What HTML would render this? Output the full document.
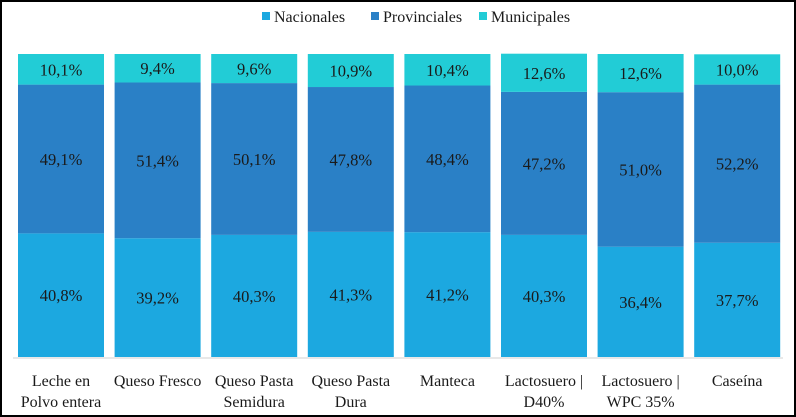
<!DOCTYPE html>
<html><head><meta charset="utf-8"><style>
html,body{margin:0;padding:0;background:#fff}
#wrap{position:relative;width:796px;height:417px;box-sizing:border-box;border:2px solid #000;background:#fff;overflow:hidden}
svg{position:absolute;left:-2px;top:-2px}
text{font-family:"Liberation Serif",serif;fill:#1a1a1a}
</style></head><body>
<div id="wrap">
<svg id="chart" width="796" height="417"></svg>
</div>
<script>
const categories=[["Leche en","Polvo entera"],["Queso Fresco"],["Queso Pasta","Semidura"],["Queso Pasta","Dura"],["Manteca"],["Lactosuero |","D40%"],["Lactosuero |","WPC 35%"],["Caseína"]];
const nacionales=[40.8,39.2,40.3,41.3,41.2,40.3,36.4,37.7];
const provinciales=[49.1,51.4,50.1,47.8,48.4,47.2,51.0,52.2];
const municipales=[10.1,9.4,9.6,10.9,10.4,12.6,12.6,10.0];
const seriesNames=["Nacionales","Provinciales","Municipales"];
const colors=["#1ca8e0","#2a80c6","#22ccd6"];
const NS="http://www.w3.org/2000/svg";
const svg=document.getElementById("chart");
const y0=357,y1=54;
const yScale=v=>y0-(v/100)*(y0-y1);
const xLeft=i=>18+i*96.6;
const bw=86;
function mk(t,a){const e=document.createElementNS(NS,t);for(const k in a)e.setAttribute(k,a[k]);svg.appendChild(e);return e;}
const series=[nacionales,provinciales,municipales];
const snames=["nacionales","provinciales","municipales"];
categories.forEach((c,i)=>{
  let cum=0;
  series.forEach((s,j)=>{
    const v=s[i];const top=yScale(cum+v),bot=yScale(cum);
    const r=mk("rect",{x:xLeft(i),y:top,width:bw,height:bot-top,fill:colors[j]});
    
    
    const t=mk("text",{x:xLeft(i)+bw/2,y:(top+bot)/2+6,"text-anchor":"middle","font-size":"16.5"});
    t.textContent=v.toFixed(1).replace('.',',')+'%';
    
    
    cum+=v;
  });
  c.forEach((ln,k)=>{
    const t=mk("text",{x:xLeft(i)+bw/2,y:386+k*21,"text-anchor":"middle","font-size":"16"});
    t.textContent=ln;
    
    
  });
});
const ax=mk("line",{x1:13,x2:783,y1:358,y2:358,stroke:"#d0d0d0","stroke-width":1});


const lx=[262,371,479];
seriesNames.forEach((n,j)=>{
  const r=mk("rect",{x:lx[j],y:12,width:8,height:8,fill:colors[j]});
  
  
  const t=mk("text",{x:lx[j]+12,y:22,"font-size":"16"});
  t.textContent=n;
  
  
});
</script>
</body></html>
